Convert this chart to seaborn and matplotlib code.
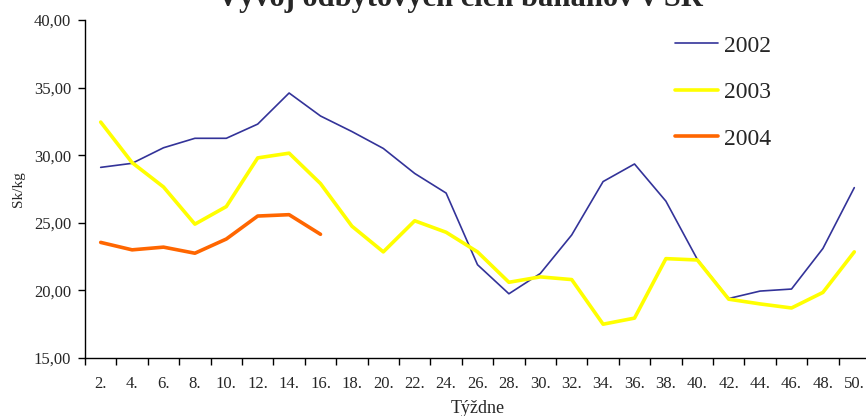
"""
Vývoj odbytových cien banánov v SR - weekly banana prices 2002-2004.
"""
import numpy as np
import pandas as pd
import matplotlib
matplotlib.use("Agg")
import matplotlib.pyplot as plt
from matplotlib.ticker import FixedLocator, FuncFormatter
import seaborn as sns

# week labels (every second week)
weeks = [f"{w}." for w in range(2, 51, 2)]

price_2002 = [29.1, 29.4, 30.55, 31.25, 31.25, 32.3, 34.6, 32.9, 31.75, 30.5,
              28.65, 27.2, 21.9, 19.75, 21.25, 24.1, 28.05, 29.35, 26.6, 22.3,
              19.4, 19.95, 20.1, 23.1, 27.6]
price_2003 = [32.45, 29.45, 27.65, 24.9, 26.2, 29.8, 30.15, 27.9, 24.75, 22.85,
              25.15, 24.3, 22.85, 20.6, 21.0, 20.8, 17.5, 17.95, 22.35, 22.25,
              19.35, 19.0, 18.7, 19.85, 22.85]
price_2004 = [23.55, 23.0, 23.2, 22.75, 23.8, 25.5, 25.6, 24.15]

series = {
    "2002": (price_2002, "#333399", 1.2),
    "2003": (price_2003, "#FFFF00", 2.6),
    "2004": (price_2004, "#FF6600", 2.6),
}


def make_chart():
    sns.set_style("white")
    plt.rcParams["font.family"] = ["Liberation Serif", "DejaVu Serif"]

    fig = plt.figure(figsize=(8.66, 4.16), dpi=100)
    ax = fig.add_axes([85 / 866, 58 / 416, 785 / 866, 338 / 416])

    x = np.arange(len(weeks))
    for year, (vals, color, lw) in series.items():
        df = pd.DataFrame({"x": x[:len(vals)], "y": vals})
        sns.lineplot(data=df, x="x", y="y", color=color, linewidth=lw,
                     label=year, ax=ax)

    ax.set_xlim(-0.5, len(weeks) - 0.5)
    ax.set_ylim(15, 40)
    ax.set_yticks([15, 20, 25, 30, 35, 40])
    ax.yaxis.set_major_formatter(FuncFormatter(lambda v, p: f"{v:.2f}".replace(".", ",")))

    # labels centred on categories, ticks on category boundaries
    ax.set_xticks(x)
    ax.set_xticklabels(weeks)
    ax.xaxis.set_minor_locator(FixedLocator(np.arange(-0.5, len(weeks), 1.0)))
    ax.tick_params(axis="x", which="major", length=0, pad=13, labelsize=12)
    ax.tick_params(axis="x", which="minor", length=5, width=1, direction="out",
                   bottom=True, color="black")
    ax.tick_params(axis="y", length=5, width=1, direction="out", left=True,
                   pad=5, labelsize=12, color="black")

    for s in ["top", "right"]:
        ax.spines[s].set_visible(False)
    for s in ["left", "bottom"]:
        ax.spines[s].set_color("black")
        ax.spines[s].set_linewidth(1)

    ax.set_xlabel("Týždne", fontsize=13, labelpad=6)
    ax.set_ylabel("Sk/kg", fontsize=11, labelpad=6)

    fig.text(460 / 866, 1 - 6 / 416, "Vývoj odbytových cien banánov v SR",
             ha="center", va="baseline", fontsize=22, fontweight="bold")

    ax.legend(loc="upper left", bbox_to_anchor=(675 / 866, 1 - 35 / 416),
              bbox_transform=fig.transFigure, frameon=False, fontsize=17,
              handlelength=1.82, handletextpad=0.25, labelspacing=1.06,
              borderpad=0, borderaxespad=0)

    fig.savefig("out.png", dpi=100)
    plt.close(fig)


if __name__ == "__main__":
    make_chart()
